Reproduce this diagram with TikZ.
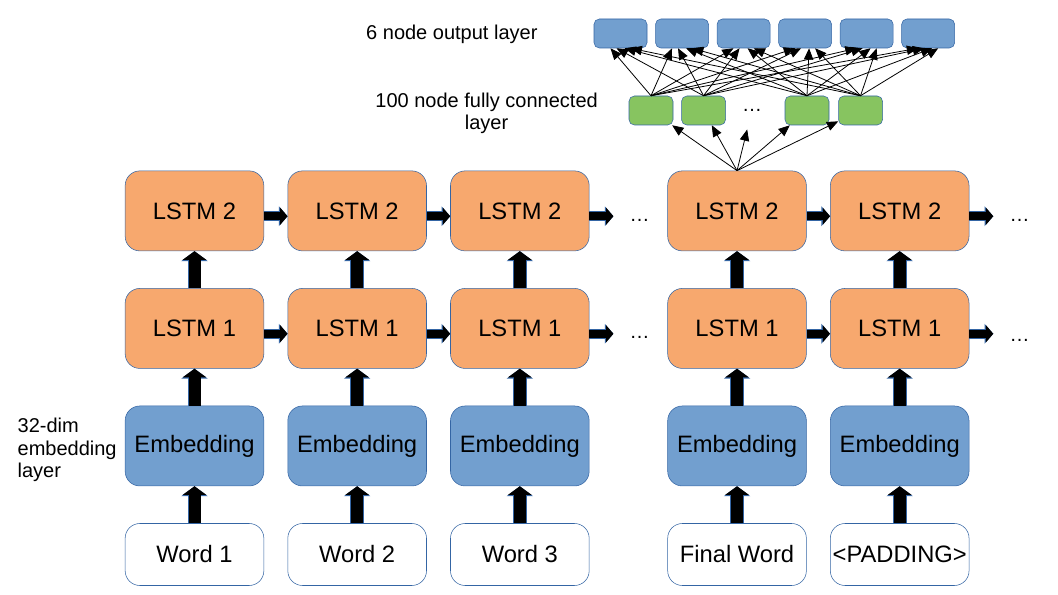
\documentclass[tikz,border=0pt]{standalone}
\usepackage{fontspec}
\setmainfont{Liberation Sans}
\usetikzlibrary{positioning, arrows.meta}
\definecolor{LstmOrange}{RGB}{247,168,110}
\definecolor{EmbedBlue}{RGB}{114,159,207}
\definecolor{DenseGreen}{RGB}{135,196,96}
\definecolor{EdgeBlue}{RGB}{52,101,164}

\begin{document}
\begin{tikzpicture}[
    x=0.75pt, y=-0.75pt,
    node distance=27.75pt and 17.6pt,
    box/.style={
        draw=EdgeBlue,
        rounded corners=11pt,
        minimum width=104pt,
        minimum height=60pt,
        inner sep=0pt,
        font=\fontsize{17.8}{21}\selectfont
    },
    lstm/.style={box, fill=LstmOrange},
    embed/.style={box, fill=EmbedBlue},
    word/.style={box, fill=white, minimum height=46.5pt},
    cell/.style={draw=EdgeBlue, rounded corners=4pt, minimum height=21.75pt, inner sep=0pt},
    dense/.style={cell, fill=DenseGreen, minimum width=33pt},
    outcell/.style={cell, fill=EmbedBlue, minimum width=39.75pt},
    note/.style={inner sep=0pt, font=\fontsize{15}{16.9}\selectfont},
    dots/.style={inner sep=0pt, font=\fontsize{15}{17}\selectfont},
    fwdv/.style={line width=9pt, -{Triangle[width=17.5pt,length=6.5pt]},
        preaction={draw=EdgeBlue, line width=10.2pt, -{Triangle[width=19.5pt,length=7.5pt]}}},
    fwdh/.style={line width=6pt, -{Triangle[width=12.5pt,length=5.5pt]},
        preaction={draw=EdgeBlue, line width=7.2pt, -{Triangle[width=14.5pt,length=6.5pt]}}},
    fc/.style={line width=0.6pt, -{Triangle[width=7pt,length=8.5pt]}}
]
\useasboundingbox (0,0) rectangle (1058,595);

% Word inputs and the stacked layers above them
\node[word] (w1) at (194.5,554.5) {Word 1};
\node[word] (w2) [right=of w1] {Word 2};
\node[word] (w3) [right=of w2] {Word 3};
\node[word] (w4) [right=58.5pt of w3] {Final Word};
\node[word] (w5) [right=of w4] {<PADDING>};

\foreach \c in {1,...,5} {
    \node[embed] (e\c) [above=of w\c] {Embedding};
    \node[lstm] (a\c) [above=of e\c] {LSTM 1};
    \node[lstm] (b\c) [above=of a\c] {LSTM 2};
    \draw[fwdv] (w\c.north) -- (e\c.south);
    \draw[fwdv] (e\c.north) -- (a\c.south);
    \draw[fwdv] (a\c.north) -- (b\c.south);
}

% Recurrent connections
\coordinate[right=18pt of a3] (ha3);
\coordinate[right=18pt of b3] (hb3);
\coordinate[right=18pt of a5] (ha5);
\coordinate[right=18pt of b5] (hb5);
\draw[fwdh] ([yshift=-4pt]a1.east) -- ([yshift=-4pt]a2.west);
\draw[fwdh] ([yshift=-4pt]a2.east) -- ([yshift=-4pt]a3.west);
\draw[fwdh] ([yshift=-4pt]a3.east) -- ([yshift=-4pt]ha3);
\draw[fwdh] ([yshift=-4pt]a4.east) -- ([yshift=-4pt]a5.west);
\draw[fwdh] ([yshift=-4pt]a5.east) -- ([yshift=-4pt]ha5);
\draw[fwdh] ([yshift=-4pt]b1.east) -- ([yshift=-4pt]b2.west);
\draw[fwdh] ([yshift=-4pt]b2.east) -- ([yshift=-4pt]b3.west);
\draw[fwdh] ([yshift=-4pt]b3.east) -- ([yshift=-4pt]hb3);
\draw[fwdh] ([yshift=-4pt]b4.east) -- ([yshift=-4pt]b5.west);
\draw[fwdh] ([yshift=-4pt]b5.east) -- ([yshift=-4pt]hb5);
\node[dots] (da3) [right=12pt of ha3, yshift=-7pt] {…};
\node[dots] (db3) [right=12pt of hb3, yshift=-7pt] {…};
\node[dots] (da5) [right=12pt of ha5, yshift=-9pt] {…};
\node[dots] (db5) [right=12pt of hb5, yshift=-7pt] {…};

% Dense layers on top of the final step
\node[dense] (g1) at (651,110.5) {};
\node[dense] (g2) [right=6pt of g1] {};
\node[dots] (gm) at (752,110) {…};
\node[dense] (g3) at (807,110.5) {};
\node[dense] (g4) [right=6.75pt of g3] {};

\node[outcell] (o1) at (620.5,33.5) {};
\node[outcell] (o2) [right=6pt of o1] {};
\node[outcell] (o3) [right=6pt of o2] {};
\node[outcell] (o4) [right=6pt of o3] {};
\node[outcell] (o5) [right=6pt of o4] {};
\node[outcell] (o6) [right=6pt of o5] {};

\foreach \g in {g1,g2,g3,g4}
    \draw[fc] (b4.north) -- (\g);
\draw[fc, shorten >=14pt] (b4.north) -- (gm);

\foreach \g/\dx in {g1/-7.5pt,g2/-3pt,g3/3pt,g4/7.5pt}
    \foreach \o in {o1,o2,o3,o4,o5,o6}
        \draw[fc] (\g.north) -- ([xshift=\dx]\o.south);

% Layer labels
\node[note, align=left] (embnote) [left=6pt of e1, yshift=-3pt] {32-dim\\embedding\\layer};
\node[note, align=center] (fcnote) [left=23pt of g1, yshift=-2pt] {100 node fully connected\\layer};
\node[note] (outnote) [left=42pt of o1, yshift=-1pt] {6 node output layer};
\end{tikzpicture}
\end{document}
